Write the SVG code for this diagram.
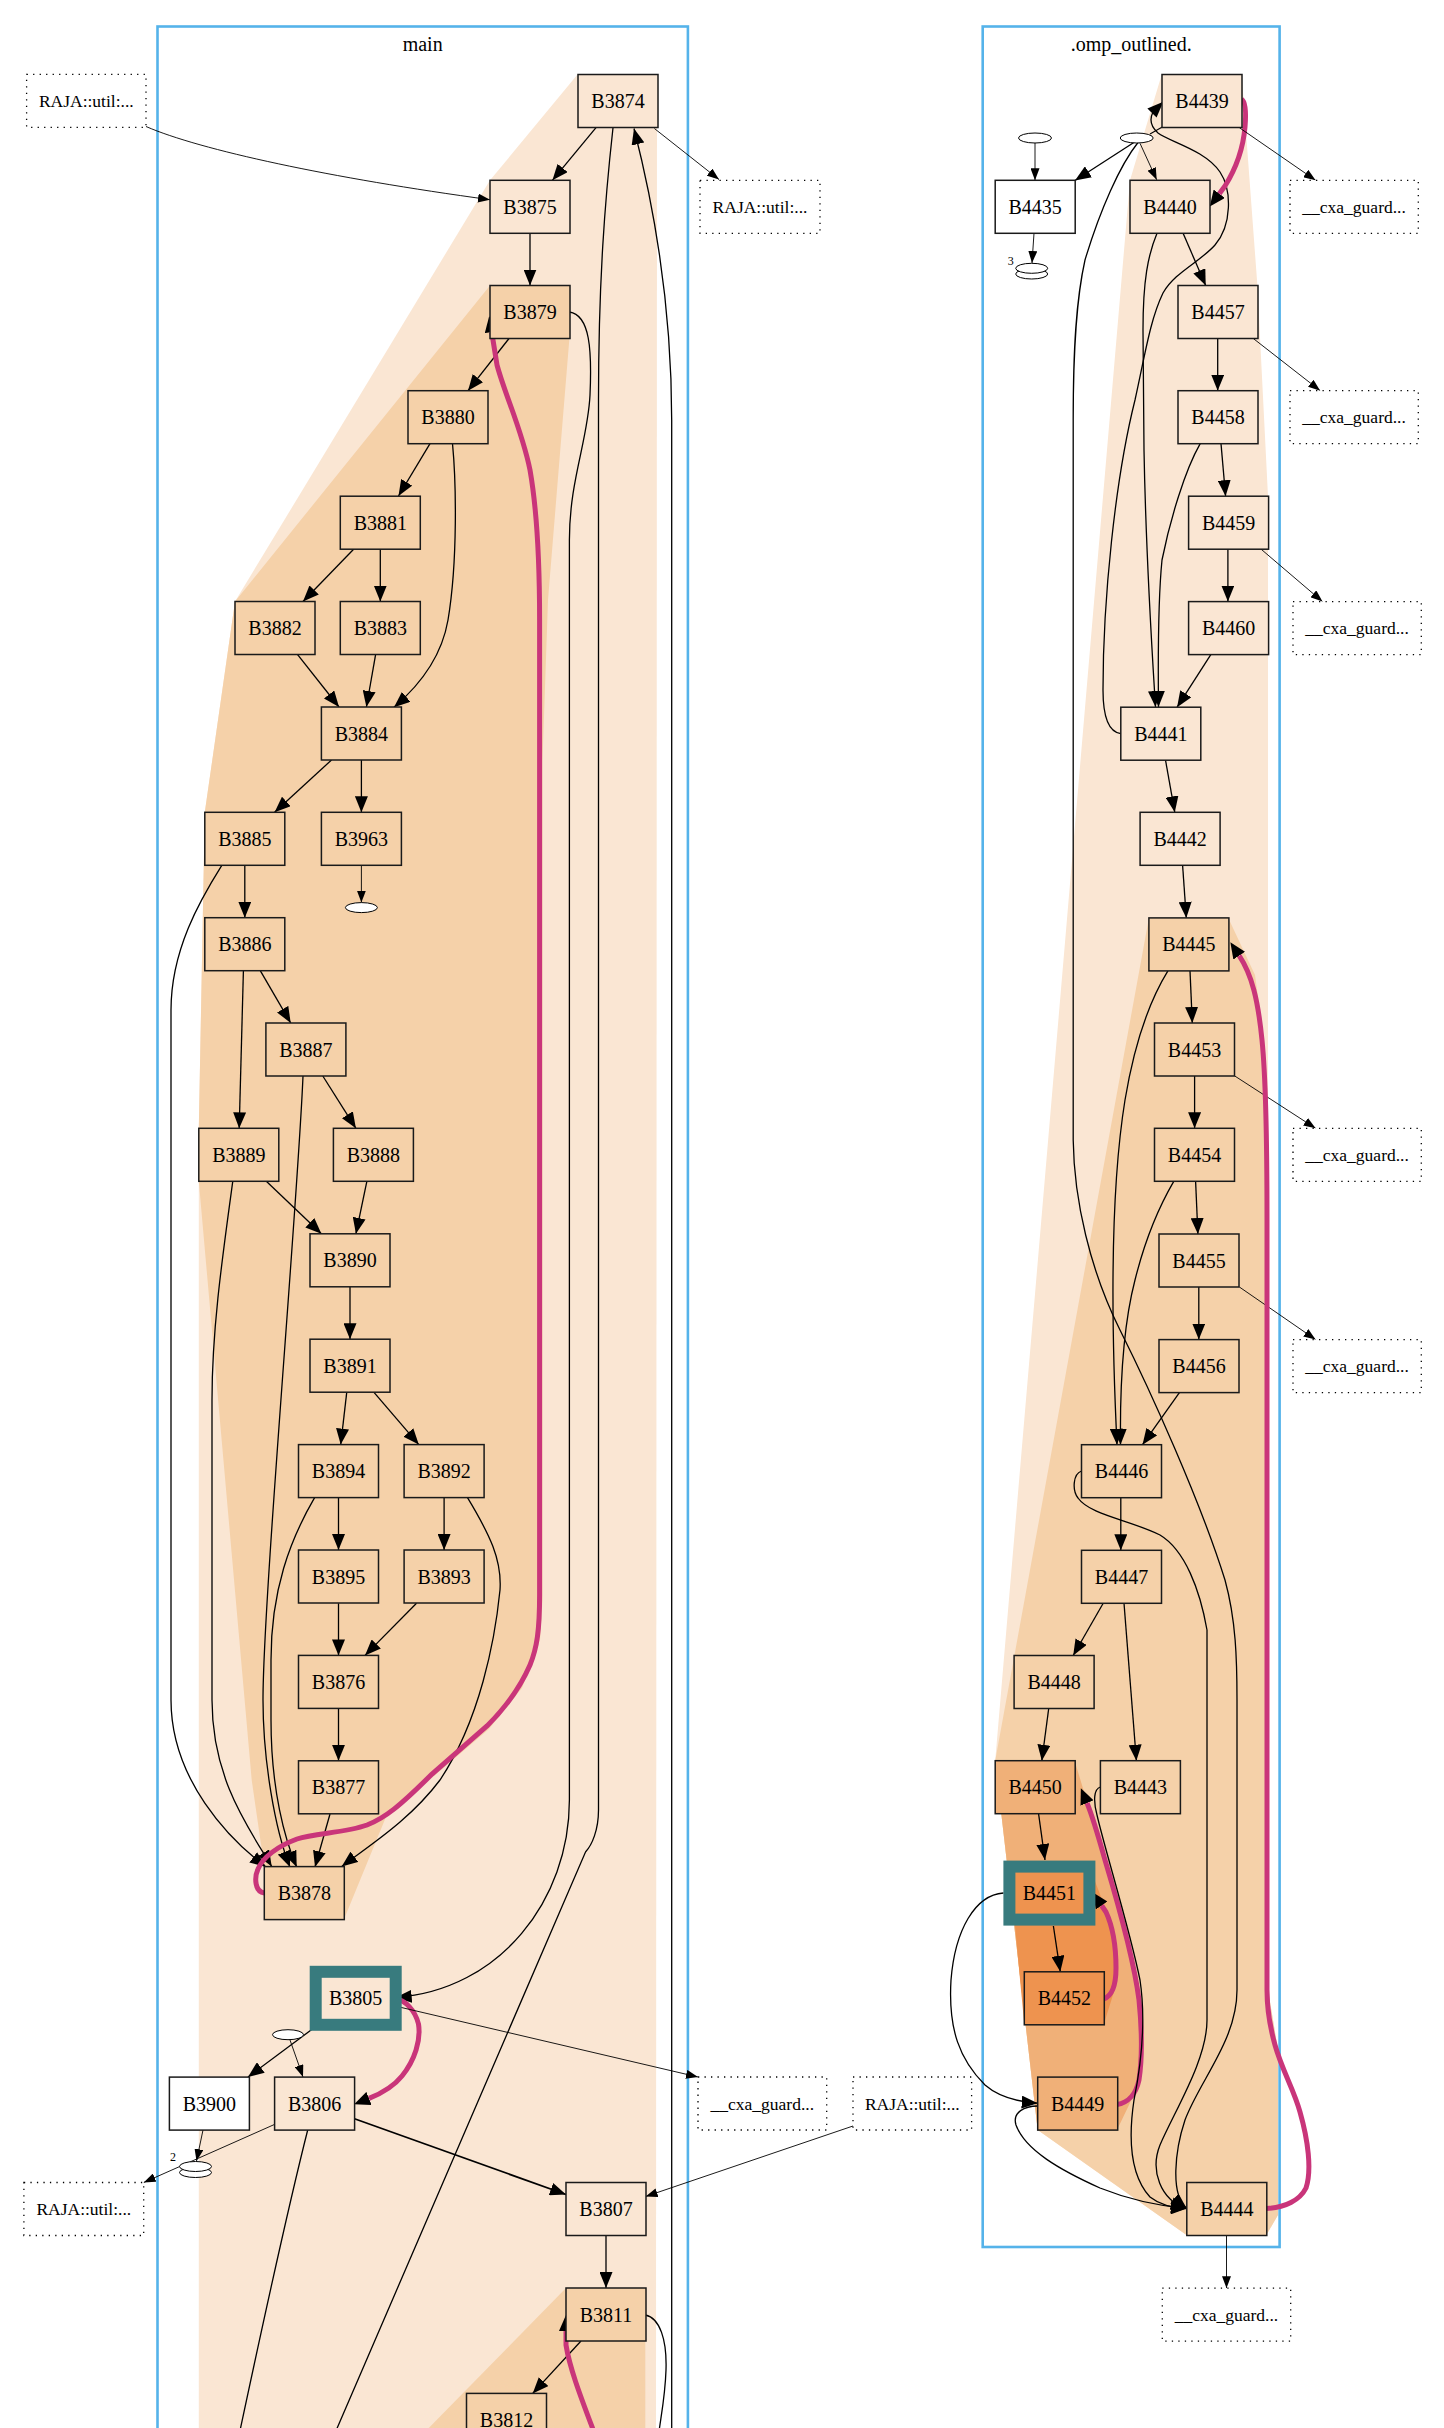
<svg xmlns="http://www.w3.org/2000/svg" width="1444" height="2428" viewBox="0 0 1444 2428">
<style>
text{font-family:"Liberation Serif","Times New Roman",serif;fill:#000}
.n rect{stroke:#1a1a1a;stroke-width:1.5}
.n text{font-size:20px;text-anchor:middle}
.l1{fill:#fae6d3}.l2{fill:#f5d1a9}.l3{fill:#f0b078}.l4{fill:#ee934f}.w{fill:#fff}
.tl rect{stroke:#387b7e;stroke-width:12}
.d rect{fill:#fff;stroke:#000;stroke-width:1.3;stroke-dasharray:1.3 5.2}
.d text{font-size:17.5px;text-anchor:middle}
.el{fill:#fff;stroke:#000;stroke-width:1}
.e{fill:none;stroke:#000;stroke-width:1.3;marker-end:url(#ah)}
.t{fill:none;stroke:#000;stroke-width:0.9;marker-end:url(#at)}
.p{fill:none;stroke:#c9357a;stroke-width:5;marker-end:url(#ap)}
.cl{fill:none;stroke:#55b3ea;stroke-width:2.6}
.ct{font-size:20px;text-anchor:middle}
.lb{font-size:12px;text-anchor:middle}
</style>
<defs>
<marker id="ah" markerWidth="16" markerHeight="13" refX="16" refY="6.5" orient="auto" markerUnits="userSpaceOnUse"><path d="M0,0 L16,6.5 L0,13 z" fill="#000"/></marker>
<marker id="at" markerWidth="12" markerHeight="9" refX="12" refY="4.5" orient="auto" markerUnits="userSpaceOnUse"><path d="M0,0 L12,4.5 L0,9 z" fill="#000"/></marker>
<marker id="ap" markerWidth="17" markerHeight="14" refX="0" refY="7" orient="auto" markerUnits="userSpaceOnUse"><path d="M0,0 L16,7 L0,14 z" fill="#000"/></marker>
</defs>
<rect width="1444" height="2428" fill="#fff"/>
<g id="regions">
<path class="l1" d="M577.7,74.3 L657,74.3 L656,2440 L198.8,2440 L198.8,1128.3 L204.8,812.3 L235,601.5 L490,180.3 Z"/>
<path class="l2" d="M490,285.5 L569.4,285.5 L569.4,338.5 L548,600 L542.5,760 L542.5,1600 L540,1640 L522,1688 L489,1729 L434,1776 L388,1812 L344,1919.3 L264.3,1919.3 L264.3,1867 L251.7,1780 L198.8,1181.2 L198.8,1128.3 L204.8,812.3 L235,601.5 Z"/>
<path class="l2" d="M566,2288 L645.3,2288 L645.3,2440 L417,2440 Z"/>
<path class="l1" d="M1161.8,74.3 L1241.7,74.3 L1257.4,285.5 L1268,496.2 L1268,1990 L1278,2050 L1278,2215 L1266.2,2235.3 L1186.8,2235.3 L1037.7,2130 L995.2,1760.7 L1130,180.3 Z"/>
<path class="l2" d="M1148.9,917.9 L1228.3,917.9 L1255,975 L1264,1040 L1268,1100 L1268,1990 L1278,2050 L1278,2215 L1266.2,2235.3 L1186.8,2235.3 L1037.7,2130 L995.2,1760.7 Z"/>
<path class="l3" d="M995.2,1760.7 L1074.6,1760.7 L1085,1795 L1105,1860 L1124,1920 L1138,1980 L1143,2040 L1140,2082 L1117,2130 L1037.7,2130 Z"/>
<path class="l4" d="M1009.4,1866.5 L1089.4,1866.5 L1106,1910 L1116,1950 L1116,1985 L1103.7,2024.7 L1024.3,2024.7 Z"/>
</g>
<g id="clusters">
<rect class="cl" x="157.5" y="26.5" width="530.4" height="2420"/>
<text class="ct" x="422.7" y="50.5">main</text>
<rect class="cl" x="982.7" y="26.5" width="296.9" height="2220.5"/>
<text class="ct" x="1131.2" y="50.5">.omp_outlined.</text>
</g>
<g id="connectors">
<path class="e" d="M596,127.7 L552.4,180.3"/>
<path class="e" d="M530,233.3 L530,285.5"/>
<path class="e" d="M613,127.7 C605,200 598.5,280 598.5,400 L598.5,1810 C598.5,1830 592,1845 585.5,1852 L332,2440" style="marker-end:none"/>
<path class="e" d="M671.7,2440 L671.7,420 C671.7,330 660,230 634,128.5"/>
<path class="e" d="M569.4,312 C590,315 592,350 590,395 C588,440 569.4,480 569.4,540 L569.4,1800 C569.4,1900 500,1990 395.7,1997.5"/>
<path class="t" d="M146,126.5 C200,150 330,178 490,199.7"/>
<path class="t" d="M654.4,128.5 L719,179.5"/>
<path class="e" d="M509,338.5 L468,390.7"/>
<path class="e" d="M430,443.6 L398.5,496"/>
<path class="e" d="M452.5,443.6 C456,480 458,560 448,620 C442,655 420,685 394,707.2"/>
<path class="e" d="M353.6,549.2 L303,601.5"/>
<path class="e" d="M380.3,549.2 L380.3,601.5"/>
<path class="e" d="M297.6,654.6 L339,707"/>
<path class="e" d="M375.6,654.6 L366.4,707"/>
<path class="e" d="M331.5,760 L274.6,812.3"/>
<path class="e" d="M361.4,760 L361.4,812.3"/>
<path class="t" d="M361.4,865.3 L361.4,902.6"/>
<path class="e" d="M244.8,865.3 L244.8,917.7"/>
<path class="e" d="M221.8,865.3 C200,900 171,950 171,1010 L171,1700 C171,1780 230,1840 266,1867"/>
<path class="e" d="M260.4,970.9 L290.7,1023"/>
<path class="e" d="M243.4,970.9 L239.2,1128.3"/>
<path class="e" d="M322.8,1076 L355.9,1128.3"/>
<path class="e" d="M303,1076 C298,1200 263,1600 263,1700 C263,1760 275,1830 290,1867"/>
<path class="e" d="M266.3,1181.2 L321.4,1233.8"/>
<path class="e" d="M232.8,1181.2 C222,1260 212,1330 212,1400 L212,1700 C212,1780 250,1830 271.7,1866.5"/>
<path class="e" d="M366.9,1181.2 L355.9,1233.8"/>
<path class="e" d="M350,1287 L350,1339.2"/>
<path class="e" d="M346.7,1392.6 L340.7,1444.6"/>
<path class="e" d="M374.2,1392.6 L418.8,1444.6"/>
<path class="e" d="M338.5,1497.7 L338.5,1550"/>
<path class="e" d="M314.6,1497.7 C290,1540 271,1590 271,1660 L271,1720 C271,1790 285,1840 296.7,1867"/>
<path class="e" d="M444.1,1497.7 L444.1,1550"/>
<path class="e" d="M467.5,1497.7 C490,1535 502,1560 500,1590 C495,1640 480,1720 440,1780 C410,1820 370,1845 341.7,1866.5"/>
<path class="e" d="M338.5,1603.3 L338.5,1655.4"/>
<path class="e" d="M416.5,1603.3 L365,1655.4"/>
<path class="e" d="M338.5,1708.5 L338.5,1760.8"/>
<path class="e" d="M330,1814 L315,1867"/>
<path class="p" d="M264.3,1893 C255,1892 254,1878 258,1869 C263,1857 278,1846 297,1839 C315,1833 345,1833 367,1825 C385,1818 400,1806 432,1774 L487,1726 C505,1708 520,1688 530,1665 C537,1648 539.6,1630 539.6,1595 L539.6,620 C539.6,560 537,510 530,470 C522,430 505,395 497,365 L491.7,332"/>
<path class="e" d="M317.8,2025 L248,2077"/>
<path class="t" d="M290,2040 L303,2077"/>
<path class="p" d="M395.7,1999 C405,2000 415,2010 418.5,2024 C421,2040 415,2060 402,2076 C394,2086 385,2092 369,2098.4"/>
<path class="t" d="M395,2006 L698,2077"/>
<path class="e" style="stroke-width:1.7" d="M354.5,2118.8 L566,2194.5"/>
<path class="t" d="M853,2126 L645.6,2196.5"/>
<path class="t" d="M203,2130 L196.5,2161"/>
<text class="lb" x="173" y="2161">2</text>
<path class="t" d="M274.6,2124.4 L143.7,2182.5"/>
<path class="e" style="marker-end:none" d="M307.7,2130 C290,2200 255,2360 238,2440"/>
<path class="e" d="M606,2235.3 L606,2288"/>
<path class="e" d="M581,2341 L532.7,2393.4"/>
<path class="e" style="marker-end:none" d="M645.3,2315 C660,2318 667,2340 666,2370 C665,2400 660,2420 658,2440"/>
<path class="p" d="M597,2440 C582,2400 570,2370 566,2345 L566,2331"/>
<path class="t" d="M1035,143 L1035,180.3"/>
<path class="e" style="marker-end:none;stroke-width:1.1" d="M1162.7,126.7 L1150,134"/>
<path class="e" d="M1135,141.7 L1075,180.5"/>
<path class="t" d="M1140,143.3 L1156.7,179.8"/>
<path class="e" d="M1138,142.5 C1120,165 1100,210 1085,260 C1076,300 1073.2,350 1073.2,420 L1073.2,1140 C1074,1200 1090,1270 1120,1330 C1150,1390 1200,1500 1225,1580 C1236,1620 1237,1660 1237,1700 L1237,1990 C1237,2040 1200,2080 1185,2120 C1175,2150 1170,2195 1186.8,2208.5"/>
<path class="e" d="M1120.8,733.6 C1108,732 1103,715 1103,690 C1103,600 1115,480 1135,400 C1145,355 1150,320 1163,293 C1175,272 1200,262 1215,245 C1232,225 1232,190 1220,172 C1205,150 1170,142 1158,133 C1150,126 1150,118 1153,112 L1163.3,101.7"/>
<path class="p" d="M1241.7,99.3 C1246,102 1246,115 1245,127 C1243,150 1235,170 1225,186 L1219.3,193.7"/>
<path class="t" d="M1239.4,127.7 L1315.6,180.3"/>
<path class="e" d="M1183.1,233.3 L1205.7,285.5"/>
<path class="e" d="M1157,233.3 C1148,255 1143,280 1143,330 L1144,450 C1146,560 1152,650 1155.5,707"/>
<path class="e" d="M1200.2,443.6 C1185,470 1170,520 1162,560 C1158,600 1158,660 1158.5,707"/>
<path class="e" d="M1217.7,338.5 L1217.7,390.7"/>
<path class="t" d="M1253.3,338.5 L1320.2,390.7"/>
<path class="e" d="M1221,443.6 L1225.6,496.2"/>
<path class="e" d="M1227.9,549.2 L1227.9,601.6"/>
<path class="t" d="M1261.1,549.2 L1322.5,601.6"/>
<path class="e" d="M1210.8,654.6 L1177.1,707.2"/>
<path class="e" d="M1165.5,760.1 L1174.8,812.3"/>
<path class="e" d="M1182.6,865.3 L1186.3,917.9"/>
<path class="e" d="M1190,970.9 L1192.3,1023"/>
<path class="e" d="M1167.9,970.9 C1150,1000 1135,1040 1125,1100 C1112,1180 1110,1300 1117,1444.7"/>
<path class="e" d="M1194.6,1076 L1194.6,1128.3"/>
<path class="t" d="M1234.8,1076 L1315.6,1128.3"/>
<path class="e" d="M1195.6,1181.2 L1197.9,1234"/>
<path class="e" d="M1173.9,1181.2 C1160,1205 1145,1240 1135,1280 C1122,1330 1120,1400 1120.5,1444.7"/>
<path class="e" d="M1198.8,1287 L1198.8,1339.6"/>
<path class="t" d="M1239.4,1287 L1315.6,1339.6"/>
<path class="e" d="M1179.4,1392.6 L1142.5,1444.7"/>
<path class="e" d="M1120.8,1497.7 L1120.8,1550.3"/>
<path class="e" d="M1081.5,1471 C1073,1474 1072,1490 1078,1498 C1090,1515 1130,1520 1160,1535 C1185,1550 1200,1590 1207,1630 L1207,2020 C1207,2060 1175,2110 1160,2145 C1150,2170 1160,2200 1186.8,2208.5"/>
<path class="e" d="M1103.2,1603.3 L1073.2,1655.5"/>
<path class="e" d="M1124,1603.3 L1136.4,1760.7"/>
<path class="e" d="M1048.7,1708.5 L1041.8,1760.7"/>
<path class="e" d="M1038.6,1814 L1045,1860"/>
<path class="e" d="M1053.4,1926 L1060.3,1971.8"/>
<path class="e" d="M1003.5,1893 C975,1895 955,1930 951,1980 C948,2030 960,2060 985,2085 C1000,2098 1020,2102 1037.7,2103.2"/>
<path class="p" d="M1103.7,1999 C1112,1996 1116,1985 1116,1968 C1116,1945 1112,1925 1106,1912 L1101.6,1905.5"/>
<path class="p" d="M1117,2104.5 C1128,2103 1136,2094 1139,2080 C1142,2060 1142,2030 1139,2000 C1134,1960 1120,1910 1105,1860 C1098,1835 1092,1815 1087,1803"/>
<path class="e" d="M1037.7,2106 C1025,2106 1012,2112 1016,2125 C1025,2150 1060,2170 1100,2188 C1130,2200 1160,2206 1186.8,2208.5"/>
<path class="e" d="M1100.4,1787 C1094,1789 1093,1800 1097,1815 C1105,1850 1130,1930 1140,1980 C1146,2020 1142,2060 1134,2100 C1128,2140 1130,2175 1150,2197 C1160,2205 1175,2208 1186.8,2208.5"/>
<path class="p" d="M1266.2,2208.5 C1285,2208 1300,2200 1306,2188 C1312,2170 1308,2140 1300,2112 C1294,2090 1282,2070 1275,2045 C1268,2020 1267,2000 1267,1990 L1267,1220 C1267,1120 1265,1070 1262,1040 C1258,1000 1252,975 1239.2,955.7"/>
<path class="t" d="M1226.5,2235.3 L1226.5,2288.2"/>
<path class="t" d="M1034,233.3 L1032,263"/>
<text class="lb" x="1010.7" y="265">3</text>
</g>
<g id="ellipses">
<ellipse id="E1" class="el" cx="361.4" cy="907.6" rx="16" ry="5"/>
<ellipse id="E2" class="el" cx="288" cy="2034.7" rx="15.5" ry="5"/>
<g id="E5"><ellipse class="el" cx="195.5" cy="2172.5" rx="16" ry="5"/><ellipse class="el" cx="195.5" cy="2166.5" rx="16" ry="5"/></g>
<ellipse id="E3" class="el" cx="1035" cy="138" rx="16.5" ry="5"/>
<ellipse id="E4" class="el" cx="1136.7" cy="138" rx="16.5" ry="5"/>
<g id="E6"><ellipse class="el" cx="1031.7" cy="274" rx="16" ry="5"/><ellipse class="el" cx="1031.7" cy="268.3" rx="16" ry="5"/></g>
</g>
<g id="n-raja1" class="d"><rect x="26.6" y="74.3" width="119.4" height="53"/><text x="86.3" y="107">RAJA::util:...</text></g>
<g id="n-raja2" class="d"><rect x="700" y="180.3" width="120" height="53"/><text x="760" y="213">RAJA::util:...</text></g>
<g id="n-raja3" class="d"><rect x="23.9" y="2182.5" width="119.8" height="53"/><text x="83.8" y="2215">RAJA::util:...</text></g>
<g id="n-raja4" class="d"><rect x="853" y="2077" width="118.6" height="53"/><text x="912.3" y="2109.5">RAJA::util:...</text></g>
<g id="n-cxa1" class="d"><rect x="1290" y="180.3" width="128.3" height="53"/><text x="1354.1" y="213">__cxa_guard...</text></g>
<g id="n-cxa2" class="d"><rect x="1290" y="390.7" width="128.3" height="53"/><text x="1354.1" y="423.4">__cxa_guard...</text></g>
<g id="n-cxa3" class="d"><rect x="1293" y="601.6" width="128.3" height="53"/><text x="1357.1" y="634.3">__cxa_guard...</text></g>
<g id="n-cxa4" class="d"><rect x="1293" y="1128.3" width="128.3" height="53"/><text x="1357.1" y="1161">__cxa_guard...</text></g>
<g id="n-cxa5" class="d"><rect x="1293" y="1339.6" width="128.3" height="53"/><text x="1357.1" y="1372.3">__cxa_guard...</text></g>
<g id="n-cxa6" class="d"><rect x="698" y="2077" width="128.7" height="53"/><text x="762.3" y="2109.5">__cxa_guard...</text></g>
<g id="n-cxa7" class="d"><rect x="1162.3" y="2288.2" width="128.4" height="53"/><text x="1226.5" y="2320.9">__cxa_guard...</text></g>
<g id="B3874" class="n"><rect class="l1" x="578" y="74.5" width="80" height="53"/><text x="618" y="108">B3874</text></g>
<g id="B3875" class="n"><rect class="l1" x="490" y="180.3" width="80" height="53"/><text x="530" y="213.8">B3875</text></g>
<g id="B3879" class="n"><rect class="l2" x="490" y="285.5" width="80" height="53"/><text x="530" y="319">B3879</text></g>
<g id="B3880" class="n"><rect class="l2" x="408" y="390.7" width="80" height="53"/><text x="448" y="424.2">B3880</text></g>
<g id="B3881" class="n"><rect class="l2" x="340.3" y="496.2" width="80" height="53"/><text x="380.3" y="529.7">B3881</text></g>
<g id="B3882" class="n"><rect class="l2" x="235" y="601.5" width="80" height="53"/><text x="275" y="635">B3882</text></g>
<g id="B3883" class="n"><rect class="l2" x="340.3" y="601.5" width="80" height="53"/><text x="380.3" y="635">B3883</text></g>
<g id="B3884" class="n"><rect class="l2" x="321.4" y="707" width="80" height="53"/><text x="361.4" y="740.5">B3884</text></g>
<g id="B3885" class="n"><rect class="l2" x="204.8" y="812.3" width="80" height="53"/><text x="244.8" y="845.8">B3885</text></g>
<g id="B3963" class="n"><rect class="l2" x="321.4" y="812.3" width="80" height="53"/><text x="361.4" y="845.8">B3963</text></g>
<g id="B3886" class="n"><rect class="l2" x="204.8" y="917.7" width="80" height="53"/><text x="244.8" y="951.2">B3886</text></g>
<g id="B3887" class="n"><rect class="l2" x="265.9" y="1023" width="80" height="53"/><text x="305.9" y="1056.5">B3887</text></g>
<g id="B3889" class="n"><rect class="l2" x="198.8" y="1128.3" width="80" height="53"/><text x="238.8" y="1161.8">B3889</text></g>
<g id="B3888" class="n"><rect class="l2" x="333.4" y="1128.3" width="80" height="53"/><text x="373.4" y="1161.8">B3888</text></g>
<g id="B3890" class="n"><rect class="l2" x="310" y="1233.8" width="80" height="53"/><text x="350" y="1267.3">B3890</text></g>
<g id="B3891" class="n"><rect class="l2" x="310" y="1339.2" width="80" height="53"/><text x="350" y="1372.7">B3891</text></g>
<g id="B3894" class="n"><rect class="l2" x="298.5" y="1444.6" width="80" height="53"/><text x="338.5" y="1478.1">B3894</text></g>
<g id="B3892" class="n"><rect class="l2" x="404.1" y="1444.6" width="80" height="53"/><text x="444.1" y="1478.1">B3892</text></g>
<g id="B3895" class="n"><rect class="l2" x="298.5" y="1550" width="80" height="53"/><text x="338.5" y="1583.5">B3895</text></g>
<g id="B3893" class="n"><rect class="l2" x="404.1" y="1550" width="80" height="53"/><text x="444.1" y="1583.5">B3893</text></g>
<g id="B3876" class="n"><rect class="l2" x="298.5" y="1655.4" width="80" height="53"/><text x="338.5" y="1688.9">B3876</text></g>
<g id="B3877" class="n"><rect class="l2" x="298.5" y="1760.8" width="80" height="53"/><text x="338.5" y="1794.3">B3877</text></g>
<g id="B3878" class="n"><rect class="l2" x="264.3" y="1866.6" width="80" height="53"/><text x="304.3" y="1900.1">B3878</text></g>
<g id="B3805" class="n tl"><rect class="l1" x="315.7" y="1971.8" width="80" height="53"/><text x="355.7" y="2005.3">B3805</text></g>
<g id="B3900" class="n"><rect class="w" x="169.4" y="2077.1" width="80" height="53"/><text x="209.4" y="2110.6">B3900</text></g>
<g id="B3806" class="n"><rect class="l1" x="274.6" y="2077.1" width="80" height="53"/><text x="314.6" y="2110.6">B3806</text></g>
<g id="B3807" class="n"><rect class="l1" x="566" y="2182.5" width="80" height="53"/><text x="606" y="2216">B3807</text></g>
<g id="B3811" class="n"><rect class="l2" x="566" y="2288" width="80" height="53"/><text x="606" y="2321.5">B3811</text></g>
<g id="B3812" class="n"><rect class="l2" x="466.5" y="2393.4" width="80" height="53"/><text x="506.5" y="2426.9">B3812</text></g>
<g id="B4439" class="n"><rect class="l1" x="1162" y="74.5" width="80" height="53"/><text x="1202" y="108">B4439</text></g>
<g id="B4435" class="n"><rect class="w" x="995.2" y="180.3" width="80" height="53"/><text x="1035.2" y="213.8">B4435</text></g>
<g id="B4440" class="n"><rect class="l1" x="1130" y="180.3" width="80" height="53"/><text x="1170" y="213.8">B4440</text></g>
<g id="B4457" class="n"><rect class="l1" x="1178" y="285.5" width="80" height="53"/><text x="1218" y="319">B4457</text></g>
<g id="B4458" class="n"><rect class="l1" x="1178" y="390.7" width="80" height="53"/><text x="1218" y="424.2">B4458</text></g>
<g id="B4459" class="n"><rect class="l1" x="1188.6" y="496.2" width="80" height="53"/><text x="1228.6" y="529.7">B4459</text></g>
<g id="B4460" class="n"><rect class="l1" x="1188.6" y="601.6" width="80" height="53"/><text x="1228.6" y="635.1">B4460</text></g>
<g id="B4441" class="n"><rect class="l1" x="1120.8" y="707.2" width="80" height="53"/><text x="1160.8" y="740.7">B4441</text></g>
<g id="B4442" class="n"><rect class="l1" x="1140.1" y="812.3" width="80" height="53"/><text x="1180.1" y="845.8">B4442</text></g>
<g id="B4445" class="n"><rect class="l2" x="1148.9" y="917.9" width="80" height="53"/><text x="1188.9" y="951.4">B4445</text></g>
<g id="B4453" class="n"><rect class="l2" x="1154.5" y="1023" width="80" height="53"/><text x="1194.5" y="1056.5">B4453</text></g>
<g id="B4454" class="n"><rect class="l2" x="1154.5" y="1128.3" width="80" height="53"/><text x="1194.5" y="1161.8">B4454</text></g>
<g id="B4455" class="n"><rect class="l2" x="1159" y="1234" width="80" height="53"/><text x="1199" y="1267.5">B4455</text></g>
<g id="B4456" class="n"><rect class="l2" x="1159" y="1339.6" width="80" height="53"/><text x="1199" y="1373.1">B4456</text></g>
<g id="B4446" class="n"><rect class="l2" x="1081.5" y="1444.7" width="80" height="53"/><text x="1121.5" y="1478.2">B4446</text></g>
<g id="B4447" class="n"><rect class="l2" x="1081.5" y="1550.3" width="80" height="53"/><text x="1121.5" y="1583.8">B4447</text></g>
<g id="B4448" class="n"><rect class="l2" x="1014.1" y="1655.5" width="80" height="53"/><text x="1054.1" y="1689">B4448</text></g>
<g id="B4450" class="n"><rect class="l3" x="995.2" y="1760.7" width="80" height="53"/><text x="1035.2" y="1794.2">B4450</text></g>
<g id="B4443" class="n"><rect class="l2" x="1100.4" y="1760.7" width="80" height="53"/><text x="1140.4" y="1794.2">B4443</text></g>
<g id="B4451" class="n tl"><rect class="l4" x="1009.4" y="1866.6" width="80" height="53"/><text x="1049.4" y="1900.1">B4451</text></g>
<g id="B4452" class="n"><rect class="l4" x="1024.3" y="1971.8" width="80" height="53"/><text x="1064.3" y="2005.3">B4452</text></g>
<g id="B4449" class="n"><rect class="l3" x="1037.7" y="2077.1" width="80" height="53"/><text x="1077.7" y="2110.6">B4449</text></g>
<g id="B4444" class="n"><rect class="l2" x="1186.8" y="2182.5" width="80" height="53"/><text x="1226.8" y="2216">B4444</text></g>
</svg>
